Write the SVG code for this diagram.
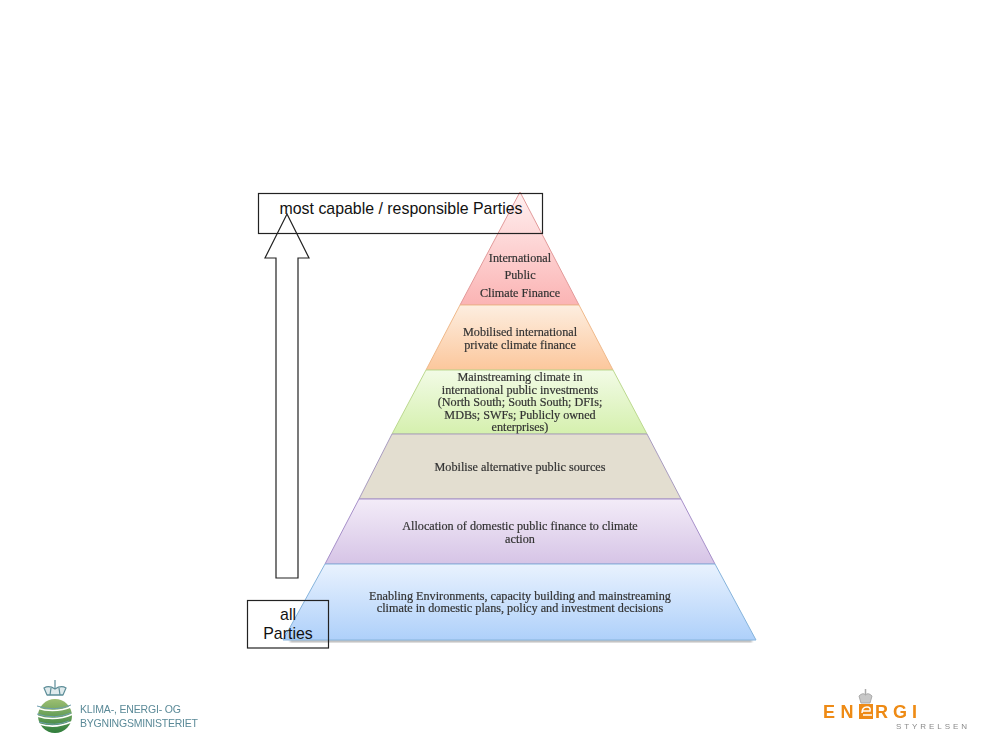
<svg xmlns="http://www.w3.org/2000/svg" width="1000" height="750" viewBox="0 0 1000 750">
<style>
.p{font-family:"Liberation Serif","Times New Roman",serif;font-size:12.2px;fill:#333;text-anchor:middle;stroke:#333;stroke-width:.2px}
.a{font-family:"Liberation Sans",Arial,sans-serif;font-size:15.9px;fill:#111;text-anchor:middle}
.box{fill:none;stroke:#222;stroke-width:1.2}
.logo{font-family:"Liberation Sans",Arial,sans-serif;font-size:10.5px;fill:#5b8a98}
.en{font-family:"Liberation Sans",Arial,sans-serif;font-size:18px;fill:#ee8a12;font-weight:700}
.soft{filter:url(#soft)}
</style>
<defs>
<filter id="soft" x="-5%" y="-5%" width="110%" height="110%"><feGaussianBlur stdDeviation="0.35"/></filter>
<filter id="shadow" x="-5%" y="-5%" width="110%" height="110%"><feGaussianBlur stdDeviation="1"/></filter>
<linearGradient id="g1" x1="0" y1="0" x2="0" y2="1"><stop offset="0" stop-color="#fff0f0"/><stop offset="1" stop-color="#fbb4b4"/></linearGradient>
<linearGradient id="g2" x1="0" y1="0" x2="0" y2="1"><stop offset="0" stop-color="#fdeee0"/><stop offset="1" stop-color="#fcc79c"/></linearGradient>
<linearGradient id="g3" x1="0" y1="0" x2="0" y2="1"><stop offset="0" stop-color="#f2fbe6"/><stop offset="1" stop-color="#d5f0ae"/></linearGradient>
<linearGradient id="g5" x1="0" y1="0" x2="0" y2="1"><stop offset="0" stop-color="#f3ecf8"/><stop offset="1" stop-color="#d6c4e6"/></linearGradient>
<linearGradient id="g6" x1="0" y1="0" x2="0" y2="1"><stop offset="0" stop-color="#e9f2fe"/><stop offset="1" stop-color="#aed0fa"/></linearGradient>
<linearGradient id="globe" x1="0" y1="0" x2="0" y2="1"><stop offset="0" stop-color="#9dbf72"/><stop offset="1" stop-color="#2f7d3c"/></linearGradient>
</defs>
<rect width="1000" height="750" fill="#fff"/>
<g id="pyramid">
<rect x="290" y="640" width="462" height="2" fill="#9a9a9a" filter="url(#shadow)"/>
<g id="layer-1"><polygon points="520,192 579,305 460,305" fill="url(#g1)" stroke="#e29a9a"/><text class="p soft" x="520" y="262">International</text><text class="p soft" x="520" y="279">Public</text><text class="p soft" x="520" y="297">Climate Finance</text></g>
<g id="layer-2"><polygon points="460,305 579,305 613,370 426,370" fill="url(#g2)" stroke="#f0b98a"/><text class="p soft" x="520" y="336">Mobilised international</text><text class="p soft" x="520" y="349">private climate finance</text></g>
<g id="layer-3"><polygon points="426,370 613,370 647,434 392,434" fill="url(#g3)" stroke="#bcd98f"/><text class="p soft" x="520" y="381">Mainstreaming climate in</text><text class="p soft" x="520" y="394">international public investments</text><text class="p soft" x="520" y="406">(North South; South South; DFIs;</text><text class="p soft" x="520" y="419">MDBs; SWFs; Publicly owned</text><text class="p soft" x="520" y="431">enterprises)</text></g>
<g id="layer-4"><polygon points="392,434 647,434 681,499 359,499" fill="#e3ded0" stroke="#a99cc0"/><text class="p soft" x="520" y="471">Mobilise alternative public sources</text></g>
<g id="layer-5"><polygon points="359,499 681,499 715,564 325,564" fill="url(#g5)" stroke="#a68fc9"/><text class="p soft" x="520" y="530">Allocation of domestic public finance to climate</text><text class="p soft" x="520" y="543">action</text></g>
<g id="layer-6"><polygon points="325,564 715,564 756,640 283,640" fill="url(#g6)" stroke="#86b4dc"/><text class="p soft" x="520" y="600">Enabling Environments, capacity building and mainstreaming</text><text class="p soft" x="520" y="612">climate in domestic plans, policy and investment decisions</text></g>
</g>
<g id="connectors"><polygon points="287,214 309,258 298,258 298,578 276,578 276,258 265,258" fill="none" stroke="#222" stroke-width="1.2"/></g>
<g id="top-label"><rect class="box" x="258.500" y="193.500" width="284" height="40"/><text class="a" x="401" y="214">most capable / responsible Parties</text></g>
<g id="bottom-label"><rect class="box" x="247.500" y="600.500" width="81" height="47.500"/><text class="a" x="288" y="620">all</text><text class="a" x="288" y="639">Parties</text></g>
<g id="logo-left" class="soft">
<circle cx="55" cy="716" r="17" fill="url(#globe)"/>
<g fill="none" stroke="#fff" stroke-width="1.600"><path d="M37,708 Q55,714 73,706"/><path d="M37,716 Q55,722 73,714"/><path d="M39,724 Q55,729 71,722"/></g>
<g fill="none" stroke="#6f9fb0" stroke-width="1"><path d="M37,706 Q55,712 71,705"/><path d="M37,714 Q55,720 71,713"/><path d="M39,722 Q55,727 69,721"/></g>
<path d="M47,695 L44,688 Q49,685 55,689 Q61,685 66,688 L63,695 Z" fill="#dfeaec" stroke="#5c8d98" stroke-width="1.200"/><path d="M55,680 V689 M47,695 H63 M51,688 L50,695 M59,688 L60,695" stroke="#5c8d98" stroke-width="1.200"/>
<text class="logo" x="80" y="713" textLength="101">KLIMA-, ENERGI- OG</text><text class="logo" x="80" y="727" textLength="118">BYGNINGSMINISTERIET</text>
</g>
<g id="logo-right" class="soft">
<path d="M861,703 L859,696 Q863,692 865.500,695 Q868,692 872,696 L870,703 Z" fill="#c8c8c8" stroke="#aaa"/><path d="M865.500,689 V695" stroke="#aaa" stroke-width="1.500"/>
<text class="en" x="823" y="718" style="letter-spacing:5.500px">EN</text>
<rect x="859" y="704" width="14" height="15" fill="#ee8a12"/><path d="M862,713 Q862,707 867,707 Q871,707 870,711 H862 M863,715 H872" fill="none" stroke="#fff" stroke-width="1.500"/>
<text class="en" x="875" y="718" textLength="42">RGI</text>
<text x="896" y="729" style="font-family:'Liberation Sans',Arial,sans-serif;font-size:8px;fill:#8a8a8a" textLength="71">STYRELSEN</text>
</g>
</svg>
